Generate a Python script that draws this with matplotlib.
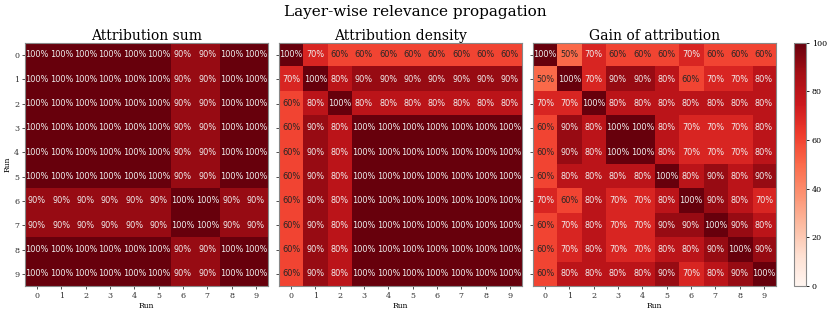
import matplotlib.pyplot as plt
import numpy as np

plt.rcParams['font.family'] = 'DejaVu Serif'

runs = list(range(10))

attr_sum = [
    [100, 100, 100, 100, 100, 100, 90, 90, 100, 100],
    [100, 100, 100, 100, 100, 100, 90, 90, 100, 100],
    [100, 100, 100, 100, 100, 100, 90, 90, 100, 100],
    [100, 100, 100, 100, 100, 100, 90, 90, 100, 100],
    [100, 100, 100, 100, 100, 100, 90, 90, 100, 100],
    [100, 100, 100, 100, 100, 100, 90, 90, 100, 100],
    [90, 90, 90, 90, 90, 90, 100, 100, 90, 90],
    [90, 90, 90, 90, 90, 90, 100, 100, 90, 90],
    [100, 100, 100, 100, 100, 100, 90, 90, 100, 100],
    [100, 100, 100, 100, 100, 100, 90, 90, 100, 100],
]

attr_density = [
    [100, 70, 60, 60, 60, 60, 60, 60, 60, 60],
    [70, 100, 80, 90, 90, 90, 90, 90, 90, 90],
    [60, 80, 100, 80, 80, 80, 80, 80, 80, 80],
    [60, 90, 80, 100, 100, 100, 100, 100, 100, 100],
    [60, 90, 80, 100, 100, 100, 100, 100, 100, 100],
    [60, 90, 80, 100, 100, 100, 100, 100, 100, 100],
    [60, 90, 80, 100, 100, 100, 100, 100, 100, 100],
    [60, 90, 80, 100, 100, 100, 100, 100, 100, 100],
    [60, 90, 80, 100, 100, 100, 100, 100, 100, 100],
    [60, 90, 80, 100, 100, 100, 100, 100, 100, 100],
]

attr_gain = [
    [100, 50, 70, 60, 60, 60, 70, 60, 60, 60],
    [50, 100, 70, 90, 90, 80, 60, 70, 70, 80],
    [70, 70, 100, 80, 80, 80, 80, 80, 80, 80],
    [60, 90, 80, 100, 100, 80, 70, 70, 70, 80],
    [60, 90, 80, 100, 100, 80, 70, 70, 70, 80],
    [60, 80, 80, 80, 80, 100, 80, 90, 80, 90],
    [70, 60, 80, 70, 70, 80, 100, 90, 80, 70],
    [60, 70, 80, 70, 70, 90, 90, 100, 90, 80],
    [60, 70, 80, 70, 70, 80, 80, 90, 100, 90],
    [60, 80, 80, 80, 80, 90, 70, 80, 90, 100],
]

titles = ['Attribution sum', 'Attribution density', 'Gain of attribution']
mats = [attr_sum, attr_density, attr_gain]

fig = plt.figure(figsize=(8.3, 3.15), dpi=100)
lefts = [0.030, 0.336, 0.642]
cmap = plt.get_cmap('Reds')

for i, (m, t) in enumerate(zip(mats, titles)):
    ax = fig.add_axes([lefts[i], 0.092, 0.293, 0.772])
    m = np.array(m)
    im = ax.imshow(m, cmap=cmap, vmin=0, vmax=100, aspect='auto')
    for r in range(m.shape[0]):
        for c in range(m.shape[1]):
            rgb = cmap(m[r, c] / 100)[:3]
            lum = 0.2126 * rgb[0] + 0.7152 * rgb[1] + 0.0722 * rgb[2]
            col = '#262626' if lum > 0.3 else '#f0f0f0'
            ax.text(c, r, f'{m[r, c]}%', ha='center', va='center',
                    fontsize=5.9, color=col, family='DejaVu Sans')
    ax.set_xticks(runs)
    ax.set_yticks(runs)
    ax.set_xticklabels(runs)
    ax.tick_params(labelsize=5.8, length=2.5, width=0.6, pad=1.5,
                   colors='#333333')
    if i == 0:
        ax.set_yticklabels(runs)
        ax.set_ylabel('Run', fontsize=5.5, labelpad=2)
    else:
        ax.set_yticklabels([])
    ax.set_xlabel('Run', fontsize=5.5, labelpad=2)
    ax.set_title(t, fontsize=10, pad=2)
    for s in ax.spines.values():
        s.set_color('#888888')

cax = fig.add_axes([0.957, 0.092, 0.0145, 0.772])
cb = fig.colorbar(im, cax=cax)
cb.ax.tick_params(labelsize=5.8, length=2.5, width=0.6, pad=1.5)
cb.outline.set_edgecolor('#888888')

fig.suptitle('Layer-wise relevance propagation', fontsize=11, y=0.985)
fig.savefig('out.png', dpi=100)
